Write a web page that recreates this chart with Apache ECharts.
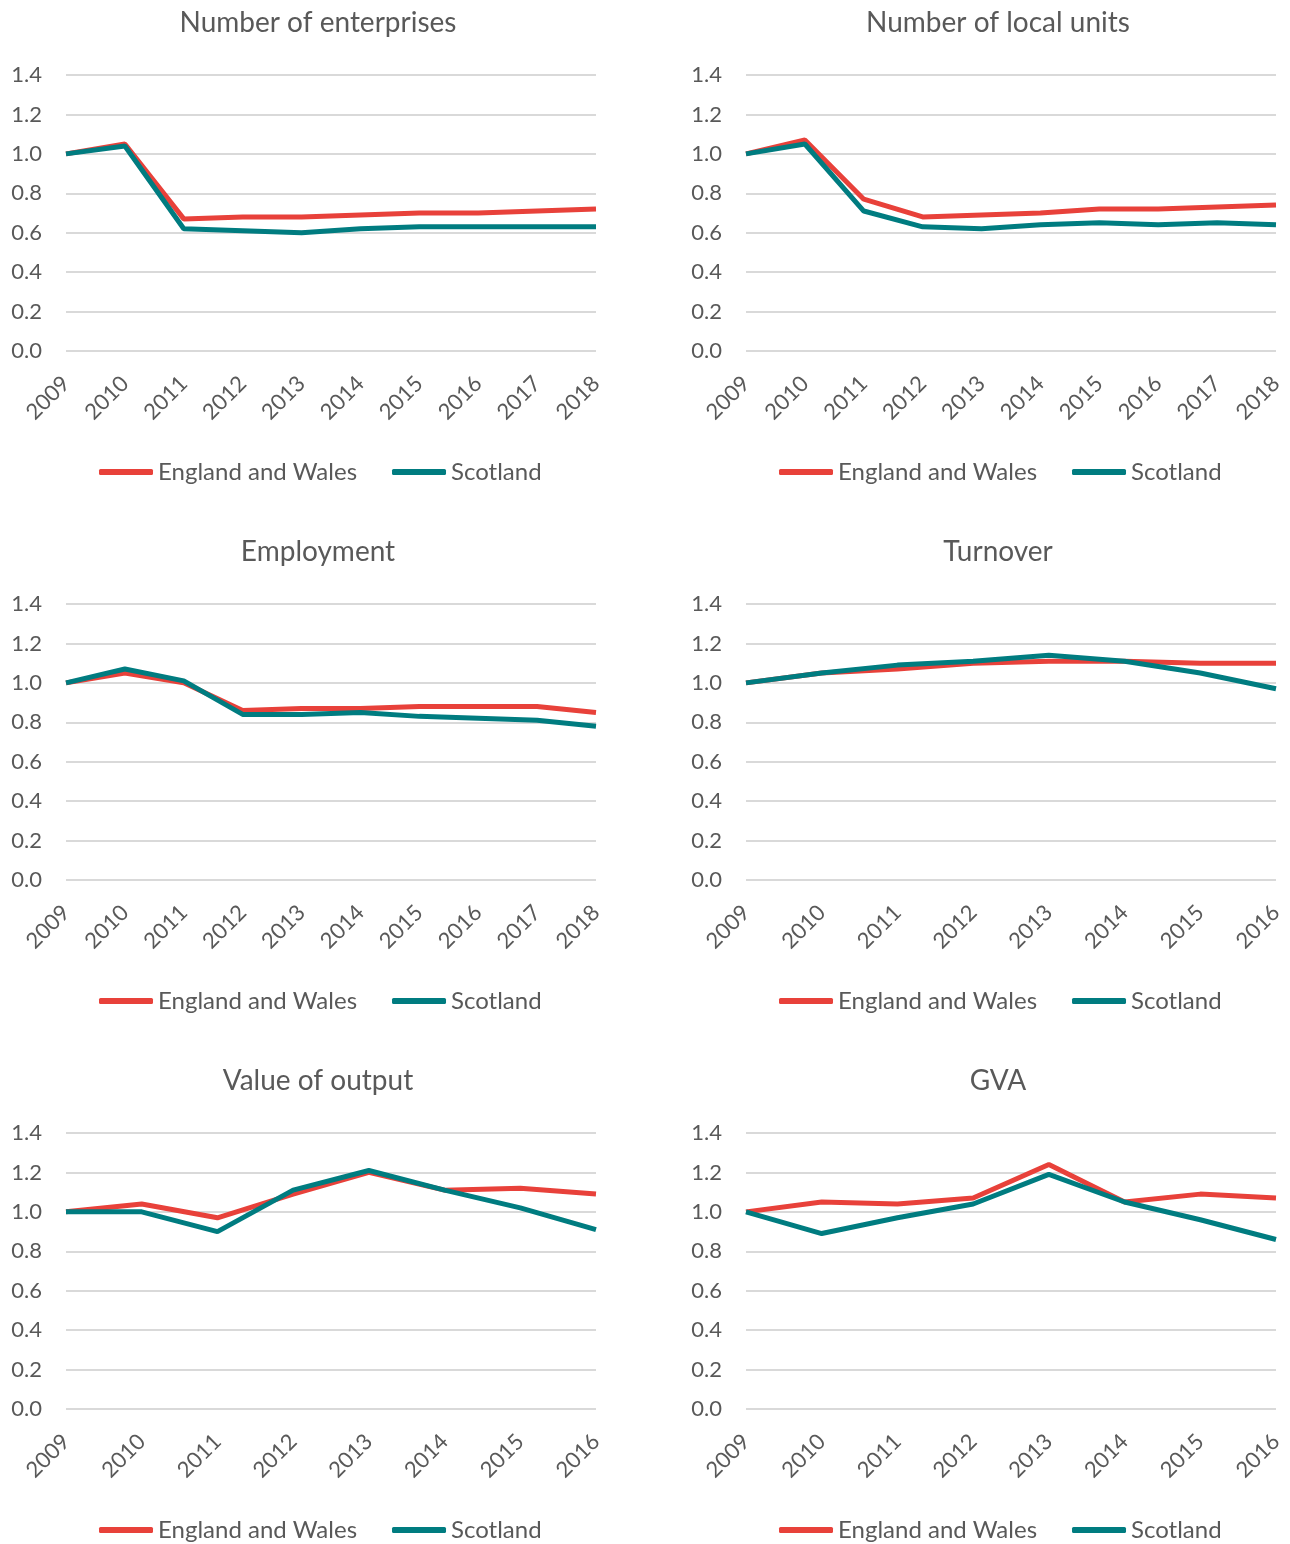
<!DOCTYPE html>
<html>
<head>
<meta charset="utf-8">
<script src="https://cdn.jsdelivr.net/npm/echarts@6/dist/echarts.min.js"></script>
<style>
html,body{margin:0;padding:0;background:#fff;}
#c{width:1290px;height:1544px;}
</style>
</head>
<body>
<div id="c"></div>
<script>
const years10 = ['2009','2010','2011','2012','2013','2014','2015','2016','2017','2018'];
const years8 = ['2009','2010','2011','2012','2013','2014','2015','2016'];
const yTicks = [0, 0.2, 0.4, 0.6, 0.8, 1.0, 1.2, 1.4];
const seriesNames = ['England and Wales', 'Scotland'];
const panelTitles = ['Number of enterprises', 'Number of local units', 'Employment', 'Turnover', 'Value of output', 'GVA'];

const enterprisesEW = [1.00, 1.05, 0.67, 0.68, 0.68, 0.69, 0.70, 0.70, 0.71, 0.72];
const enterprisesSc = [1.00, 1.04, 0.62, 0.61, 0.60, 0.62, 0.63, 0.63, 0.63, 0.63];
const localUnitsEW = [1.00, 1.07, 0.77, 0.68, 0.69, 0.70, 0.72, 0.72, 0.73, 0.74];
const localUnitsSc = [1.00, 1.05, 0.71, 0.63, 0.62, 0.64, 0.65, 0.64, 0.65, 0.64];
const employmentEW = [1.00, 1.05, 1.00, 0.86, 0.87, 0.87, 0.88, 0.88, 0.88, 0.85];
const employmentSc = [1.00, 1.07, 1.01, 0.84, 0.84, 0.85, 0.83, 0.82, 0.81, 0.78];
const turnoverEW = [1.00, 1.05, 1.07, 1.10, 1.11, 1.11, 1.10, 1.10];
const turnoverSc = [1.00, 1.05, 1.09, 1.11, 1.14, 1.11, 1.05, 0.97];
const outputEW = [1.00, 1.04, 0.97, 1.09, 1.20, 1.11, 1.12, 1.09];
const outputSc = [1.00, 1.00, 0.90, 1.11, 1.21, 1.11, 1.02, 0.91];
const gvaEW = [1.00, 1.05, 1.04, 1.07, 1.24, 1.05, 1.09, 1.07];
const gvaSc = [1.00, 0.89, 0.97, 1.04, 1.19, 1.05, 0.96, 0.86];

const panels = [
  {cats: years10, ew: enterprisesEW, sc: enterprisesSc},
  {cats: years10, ew: localUnitsEW, sc: localUnitsSc},
  {cats: years10, ew: employmentEW, sc: employmentSc},
  {cats: years8, ew: turnoverEW, sc: turnoverSc},
  {cats: years8, ew: outputEW, sc: outputSc},
  {cats: years8, ew: gvaEW, sc: gvaSc}
];

const RED = '#E8413A';
const TEAL = '#007C80';
const TXT = '#595959';
const FONT = 'Lato';

const colLeft = [66, 746];
const rowTop = [75, 604, 1133];
const gridW = 530, gridH = 276;

const option = {
  animation: false,
  backgroundColor: '#fff',
  title: [], grid: [], xAxis: [], yAxis: [], legend: [], series: []
};

panels.forEach((p, i) => {
  const col = i % 2, row = Math.floor(i / 2);
  const L = colLeft[col], T = rowTop[row];
  option.title.push({
    text: panelTitles[i],
    left: L + 247, top: T - 71, textAlign: 'center',
    textStyle: {fontFamily: FONT, fontSize: 28, fontWeight: 'normal', color: TXT}
  });
  option.grid.push({left: L, top: T, width: gridW, height: gridH, containLabel: false});
  option.xAxis.push({
    type: 'category', gridIndex: i, data: p.cats, boundaryGap: false,
    axisLine: {show: false}, axisTick: {show: false},
    axisLabel: {rotate: 45, fontFamily: FONT, fontSize: 22, color: TXT, margin: 29, interval: 0}
  });
  option.yAxis.push({
    type: 'value', gridIndex: i, min: 0, max: 1.4, interval: 0.2,
    axisLine: {show: false}, axisTick: {show: false},
    axisLabel: {fontFamily: FONT, fontSize: 22, color: TXT, margin: 24, formatter: v => v.toFixed(1)},
    splitLine: {lineStyle: {color: '#D9D9D9', width: 2}}
  });
  option.legend.push({
    data: seriesNames, left: L + 28, top: T + 380,
    icon: 'roundRect', itemWidth: 54, itemHeight: 6, itemGap: 35,
    textStyle: {fontFamily: FONT, fontSize: 24, color: TXT}
  });
  option.series.push({
    name: seriesNames[0], type: 'line', xAxisIndex: i, yAxisIndex: i, data: p.ew,
    symbol: 'none', lineStyle: {color: RED, width: 5}, itemStyle: {color: RED}, z: 2
  });
  option.series.push({
    name: seriesNames[1], type: 'line', xAxisIndex: i, yAxisIndex: i, data: p.sc,
    symbol: 'none', lineStyle: {color: TEAL, width: 5}, itemStyle: {color: TEAL}, z: 3
  });
});

const chart = echarts.init(document.getElementById('c'), null, {renderer: 'canvas'});
chart.setOption(option);
</script>
</body>
</html>
